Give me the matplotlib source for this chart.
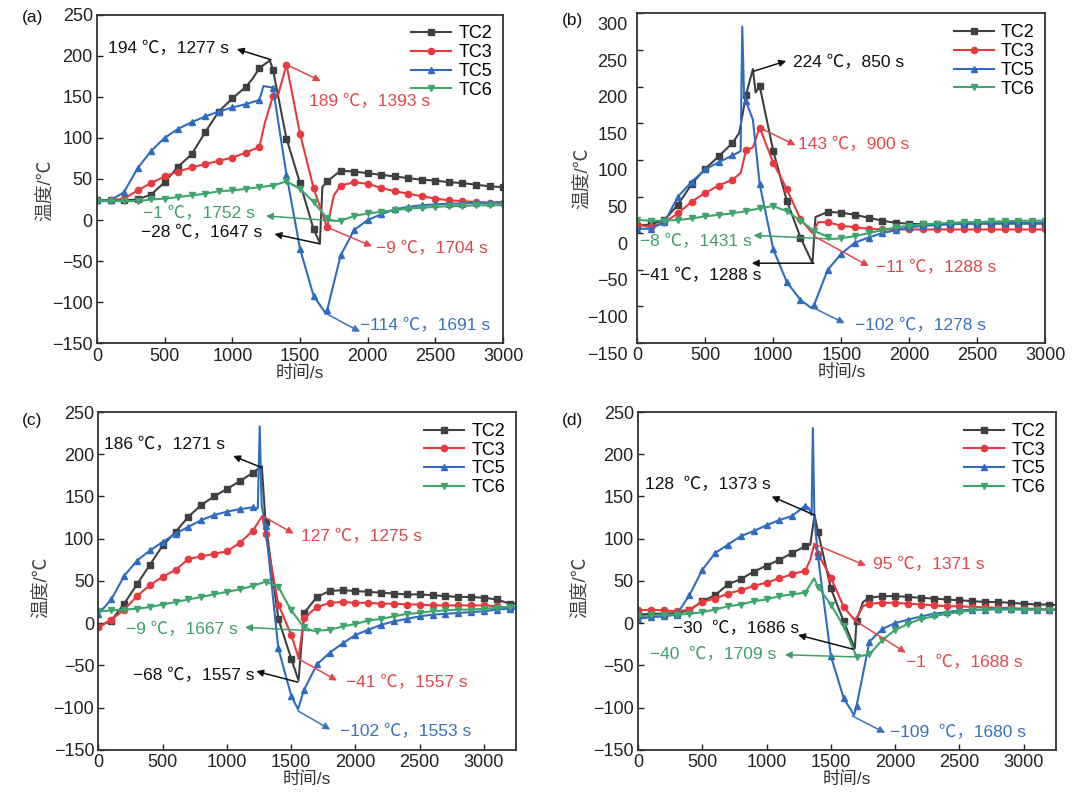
import matplotlib
matplotlib.use("Agg")
import matplotlib.pyplot as plt
import matplotlib.transforms as mtransforms

plt.rcParams['font.family'] = ['Liberation Sans', 'Noto Sans CJK SC']
plt.rcParams['axes.unicode_minus'] = True

# ---------------- 数据 (a) ----------------
a_t2 = [0, 100, 200, 300, 400, 500, 600, 700, 800, 900, 1000, 1100, 1150, 1200, 1277, 1300, 1400, 1500, 1600, 1647, 1665,
        1700, 1800, 1900, 2000, 2100, 2200, 2300, 2400, 2500, 2600, 2700, 2800, 2900, 3000]
a_v2 = [24, 24, 24, 25, 31, 46, 65, 80, 107, 132, 148, 162, 172, 185, 194, 183, 99, 45, -11, -28, 40,
        47, 60, 59, 57, 55, 53, 51, 49, 48, 46, 45, 43, 41, 40]
a_t3 = [0, 100, 200, 300, 400, 500, 600, 700, 800, 900, 1000, 1100, 1200, 1240, 1300, 1340, 1400, 1500, 1600, 1700, 1750,
        1800, 1900, 2000, 2100, 2200, 2300, 2400, 2500, 2600, 2700, 2800, 2900, 3000]
a_v3 = [24, 24, 26, 36, 45, 53, 59, 64, 68, 72, 76, 82, 89, 118, 151, 153, 189, 105, 39, -9, 30,
        42, 46, 44, 39, 35, 32, 29, 26, 24, 23, 22, 21, 21]
a_t5 = [0, 100, 200, 300, 400, 500, 600, 700, 800, 900, 1000, 1100, 1200, 1230, 1300, 1400, 1500, 1600, 1691, 1700,
        1800, 1900, 2000, 2100, 2200, 2300, 2400, 2500, 2600, 2700, 2800, 2900, 3000]
a_v5 = [24, 24, 34, 63, 84, 100, 111, 119, 126, 132, 137, 141, 146, 163, 161, 55, -35, -92, -114, -110,
        -43, -12, 0, 7, 13, 16, 18, 19, 20, 20, 21, 21, 22]
a_t6 = [0, 100, 200, 300, 400, 500, 600, 700, 800, 900, 1000, 1100, 1200, 1300, 1400, 1500, 1600, 1700, 1752,
        1800, 1900, 2000, 2100, 2200, 2300, 2400, 2500, 2600, 2700, 2800, 2900, 3000]
a_v6 = [23, 23, 23, 23, 25, 26, 28, 30, 32, 35, 36, 38, 40, 42, 47, 38, 22, 2, -1,
        -1, 5, 8, 10, 12, 14, 15, 16, 17, 17, 18, 18, 18]

# ---------------- 数据 (b) ----------------
b_t2 = [0, 100, 200, 300, 400, 500, 600, 700, 750, 800, 850, 870, 900, 1000, 1100, 1200, 1288, 1310,
        1400, 1500, 1600, 1700, 1800, 1900, 2000, 2100, 2200, 2300, 2400, 2500, 2600, 2700, 2800, 2900, 3000]
b_v2 = [10, 12, 18, 39, 67, 88, 105, 123, 137, 189, 224, 192, 201, 112, 44, -6, -41, 22,
        29, 28, 25, 21, 17, 14, 13, 12, 12, 13, 13, 13, 13, 13, 13, 13, 13]
b_t3 = [0, 100, 200, 300, 400, 500, 600, 700, 760, 800, 850, 900, 1000, 1100, 1200, 1288, 1330,
        1400, 1500, 1600, 1700, 1800, 1900, 2000, 2100, 2200, 2300, 2400, 2500, 2600, 2700, 2800, 2900, 3000]
b_v3 = [12, 8, 15, 27, 43, 55, 65, 73, 82, 113, 117, 144, 96, 60, 19, 0, 15,
        15, 10, 8, 6, 5, 5, 5, 5, 5, 5, 5, 5, 5, 5, 5, 5, 5]
b_t5 = [0, 100, 200, 300, 400, 500, 600, 700, 760, 772, 785, 800, 850, 900, 1000, 1100, 1200, 1278, 1300,
        1400, 1500, 1600, 1700, 1800, 1900, 2000, 2100, 2200, 2300, 2400, 2500, 2600, 2700, 2800, 2900, 3000]
b_v5 = [6, 6, 15, 50, 70, 87, 97, 106, 112, 282, 190, 180, 155, 67, -22, -67, -91, -102, -98,
        -50, -28, -13, -6, 0, 4, 8, 10, 11, 12, 13, 13, 14, 14, 14, 14, 14]
b_t6 = [0, 100, 200, 300, 400, 500, 600, 700, 800, 900, 1000, 1100, 1200, 1300, 1400, 1431,
        1500, 1600, 1700, 1800, 1900, 2000, 2100, 2200, 2300, 2400, 2500, 2600, 2700, 2800, 2900, 3000]
b_v6 = [18, 17, 17, 18, 20, 23, 25, 27, 30, 34, 37, 30, 17, 3, -5, -8,
        -7, -4, 0, 4, 8, 10, 12, 13, 14, 15, 15, 16, 16, 17, 17, 17]

# ---------------- 数据 (c) ----------------
c_t2 = [0, 100, 200, 300, 400, 500, 600, 700, 800, 900, 1000, 1100, 1200, 1271, 1300, 1400, 1500, 1557, 1600,
        1700, 1800, 1900, 2000, 2100, 2200, 2300, 2400, 2500, 2600, 2700, 2800, 2900, 3000, 3100, 3200, 3250]
c_v2 = [-4, 3, 23, 46, 69, 92, 108, 126, 140, 150, 159, 168, 178, 186, 120, 5, -42, -68, 12,
        31, 38, 39, 38, 37, 36, 35, 34, 34, 33, 32, 31, 31, 30, 28, 23, 23]
c_t3 = [0, 100, 200, 300, 400, 500, 600, 700, 800, 900, 1000, 1100, 1200, 1275, 1300, 1400, 1500, 1557, 1600,
        1700, 1800, 1900, 2000, 2100, 2200, 2300, 2400, 2500, 2600, 2700, 2800, 2900, 3000, 3100, 3200, 3250]
c_v3 = [-5, 4, 16, 32, 45, 55, 63, 76, 79, 82, 85, 95, 109, 127, 106, 22, -14, -41, 6,
        19, 24, 25, 24, 24, 23, 23, 22, 22, 21, 21, 21, 21, 21, 20, 18, 18]
c_t5 = [0, 100, 200, 300, 400, 500, 600, 700, 800, 900, 1000, 1100, 1200, 1240, 1255, 1270, 1300, 1400, 1500, 1553,
        1600, 1700, 1800, 1900, 2000, 2100, 2200, 2300, 2400, 2500, 2600, 2700, 2800, 2900, 3000, 3100, 3200, 3250]
c_v5 = [11, 28, 56, 74, 86, 96, 106, 114, 122, 128, 132, 135, 137, 136, 233, 140, 115, -30, -86, -102,
        -79, -49, -35, -24, -14, -8, -2, 2, 5, 8, 10, 11, 12, 13, 14, 16, 17, 17]
c_t6 = [0, 100, 200, 300, 400, 500, 600, 700, 800, 900, 1000, 1100, 1200, 1300, 1400, 1500, 1600, 1667,
        1700, 1800, 1900, 2000, 2100, 2200, 2300, 2400, 2500, 2600, 2700, 2800, 2900, 3000, 3100, 3200, 3250]
c_v6 = [14, 15, 16, 17, 19, 22, 25, 28, 31, 34, 37, 40, 44, 49, 43, 15, -5, -9,
        -9, -8, -4, -1, 3, 5, 8, 11, 12, 14, 15, 16, 16, 17, 18, 19, 19]

# ---------------- 数据 (d) ----------------
d_t2 = [0, 100, 200, 300, 400, 500, 600, 700, 800, 900, 1000, 1100, 1200, 1300, 1340, 1373, 1400, 1500, 1600, 1686,
        1700, 1750, 1800, 1900, 2000, 2100, 2200, 2300, 2400, 2500, 2600, 2700, 2800, 2900, 3000, 3100, 3200, 3300]
d_v2 = [10, 11, 11, 12, 15, 26, 33, 46, 52, 61, 68, 75, 83, 91, 93, 128, 108, 41, 2, -30,
        3, 25, 30, 32, 32, 31, 30, 29, 28, 27, 26, 25, 25, 24, 23, 22, 22, 21]
d_t3 = [0, 100, 200, 300, 400, 500, 600, 700, 800, 900, 1000, 1100, 1200, 1300, 1340, 1371, 1400, 1500, 1600, 1688,
        1750, 1800, 1900, 2000, 2100, 2200, 2300, 2400, 2500, 2600, 2700, 2800, 2900, 3000, 3100, 3200, 3300]
d_v3 = [15, 16, 15, 14, 16, 25, 29, 35, 39, 44, 48, 53, 58, 62, 75, 94, 82, 54, 19, 3,
        20, 23, 24, 24, 23, 22, 21, 20, 20, 19, 19, 18, 18, 17, 17, 16, 16]
d_t5 = [0, 100, 200, 300, 400, 500, 600, 700, 800, 900, 1000, 1100, 1200, 1300, 1330, 1350, 1360, 1372, 1400,
        1500, 1600, 1680, 1700, 1750, 1800, 1900, 2000, 2100, 2200, 2300, 2400, 2500, 2600, 2700, 2800, 2900, 3000,
        3100, 3200, 3300]
d_v5 = [5, 7, 8, 10, 33, 63, 83, 93, 103, 109, 116, 122, 127, 139, 136, 128, 231, 125, 79,
        -39, -89, -109, -98, -60, -22, -7, 0, 4, 8, 11, 13, 15, 16, 16, 17, 17, 16,
        16, 16, 16]
d_t6 = [0, 100, 200, 300, 400, 500, 600, 700, 800, 900, 1000, 1100, 1200, 1300, 1370, 1400, 1500, 1600, 1700,
        1800, 1900, 2000, 2100, 2200, 2300, 2400, 2500, 2600, 2700, 2800, 2900, 3000, 3100, 3200, 3300]
d_v6 = [8, 9, 10, 10, 11, 13, 16, 20, 22, 26, 28, 32, 34, 36, 53, 43, 22, -4, -40,
        -37, -20, -8, -1, 5, 8, 11, 13, 15, 16, 16, 16, 16, 16, 16, 16]

# 标注: (文字, 文字位置x, y, 箭头起点x, y, 箭头终点x, y, 颜色)
a_notes = [
    ('194 ℃，1277 s', 84, 208, 1286, 195, 1033, 208, 'k'),
    ('189 ℃，1393 s', 1565, 144, 1390, 190, 1653, 169, 'r'),
    ('−1 ℃，1752 s', 337, 8, 1752, -1, 1248, 5, 'g'),
    ('−28 ℃，1647 s', 324, -15, 1648, -29, 1311, -17, 'k'),
    ('−9 ℃，1704 s', 2058, -35, 1704, -9, 2033, -32, 'r'),
    ('−114 ℃，1691 s', 1944, -128, 1685, -113, 1944, -136, 'b'),
]
b_notes = [
    ('224 ℃，850 s', 1146, 233, 855, 221, 1095, 235, 'k'),
    ('143 ℃，900 s', 1184, 121, 898, 144, 1164, 120, 'r'),
    ('−8 ℃，1431 s', 20, -11, 1431, -8, 855, -3, 'g'),
    ('−41 ℃，1288 s', 20, -58, 1298, -41, 842, -41, 'k'),
    ('−11 ℃，1288 s', 1753, -47, 1298, -4, 1703, -45, 'r'),
    ('−102 ℃，1278 s', 1601, -126, 1285, -101, 1525, -123, 'b'),
]
c_notes = [
    ('186 ℃，1271 s', 40, 212, 1273, 184, 1048, 198, 'k'),
    ('127 ℃，1275 s', 1578, 102, 1286, 126, 1520, 106, 'r'),
    ('−9 ℃，1667 s', 212, -8, 1645, -9, 1141, -5, 'g'),
    ('−68 ℃，1557 s', 265, -62, 1552, -70, 1228, -57, 'k'),
    ('−41 ℃，1557 s', 1923, -71, 1552, -42, 1857, -68, 'r'),
    ('−102 ℃，1553 s', 1883, -128, 1552, -104, 1804, -126, 'b'),
]
d_notes = [
    ('128  ℃，1373 s', 54, 164, 1371, 128, 1040, 150, 'k'),
    ('95 ℃，1371 s', 1828, 69, 1366, 94, 1774, 68, 'r'),
    ('−30  ℃，1686 s', 269, -7, 1675, -31, 1245, -14, 'k'),
    ('−40  ℃，1709 s', 94, -37.5, 1686, -40, 1142, -37.5, 'g'),
    ('−1  ℃，1688 s', 2083, -47, 1686, 3, 2083, -35, 'r'),
    ('−109  ℃，1680 s', 1962, -130, 1667, -110, 1922, -130, 'b'),
]

line_colors = {'TC2': '#404040', 'TC3': '#e63a3f', 'TC5': '#2f6cc0', 'TC6': '#3ea56c'}
markers = {'TC2': 's', 'TC3': 'o', 'TC5': '^', 'TC6': 'v'}
note_colors = {'k': '#111111', 'r': '#e0484d', 'b': '#3a72bd', 'g': '#3f9e6c'}

fig = plt.figure(figsize=(10.8, 8.06), dpi=100)

# (标签, 位置, x范围, y范围, y刻度, 数据, 标注, 标签位置, y刻度标签下移, y刻度间距, y标签位置)
panels = [
    ('(a)', [0.0898, 0.574, 0.376, 0.408], (0, 3000), (-150, 250), [-150, -100, -50, 0, 50, 100, 150, 200, 250],
     [(a_t2, a_v2), (a_t3, a_v3), (a_t5, a_v5), (a_t6, a_v6)], a_notes, (0.020, 0.978), 0, 3, (-0.103, 0.465)),
    ('(b)', [0.590, 0.5744, 0.378, 0.409], (0, 3000), (-150, 300), [-150, -100, -50, 0, 50, 100, 150, 200, 250, 300],
     [(b_t2, b_v2), (b_t3, b_v3), (b_t5, b_v5), (b_t6, b_v6)], b_notes, (0.520, 0.974), -10, 7, (-0.11, 0.5)),
    ('(c)', [0.0912, 0.0698, 0.3866, 0.419], (0, 3250), (-150, 250), [-150, -100, -50, 0, 50, 100, 150, 200, 250],
     [(c_t2, c_v2), (c_t3, c_v3), (c_t5, c_v5), (c_t6, c_v6)], c_notes, (0.020, 0.478), 0, 3, (-0.115, 0.48)),
    ('(d)', [0.5907, 0.0698, 0.387, 0.419], (0, 3250), (-150, 250), [-150, -100, -50, 0, 50, 100, 150, 200, 250],
     [(d_t2, d_v2), (d_t3, d_v3), (d_t5, d_v5), (d_t6, d_v6)], d_notes, (0.520, 0.478), 0, 3, (-0.115, 0.48)),
]

names = ['TC2', 'TC3', 'TC5', 'TC6']

for tag, rect, xl, yl, yt, series, notes, tagpos, yoff, ypad, ylab in panels:
    ax = fig.add_axes(rect)
    for name, (ts, vs) in zip(names, series):
        every = [i for i, t in enumerate(ts) if t % 100 == 0]
        ax.plot(ts, vs, color=line_colors[name], marker=markers[name], markersize=4.5,
                markevery=every, linewidth=1.5, label=name)
    for txt, tx, ty, x0, y0, x1, y1, c in notes:
        col = note_colors[c]
        ax.annotate('', xy=(x1, y1), xytext=(x0, y0),
                    arrowprops=dict(arrowstyle='-|>', color=col, lw=1.1,
                                    mutation_scale=10, shrinkA=0, shrinkB=0))
        ax.text(tx, ty, txt, color=col, fontsize=12.5, va='center', ha='left')
    ax.set_xlim(*xl)
    ax.set_ylim(*yl)
    ax.set_xticks([0, 500, 1000, 1500, 2000, 2500, 3000])
    ax.set_yticks(yt)
    ax.tick_params(direction='in', length=4, width=1, labelsize=13, colors='#222222', pad=3,
                   top=False, right=False)
    ax.tick_params(axis='y', pad=ypad)
    for sp in ax.spines.values():
        sp.set_linewidth(1.3)
        sp.set_color('#333333')
    if yoff:
        shift = mtransforms.ScaledTranslation(0, yoff / 100, fig.dpi_scale_trans)
        for lab in ax.get_yticklabels():
            lab.set_transform(lab.get_transform() + shift)
    ax.set_xlabel('时间/s', fontsize=12.5, color='#333333', labelpad=0)
    ax.set_ylabel('温度/℃', fontsize=13.5, color='#444444')
    ax.yaxis.set_label_coords(*ylab)
    ax.legend(loc='upper right', frameon=False, fontsize=13, handlelength=2.2,
              labelspacing=0.1, handletextpad=0.4, borderaxespad=0.2)
    fig.text(tagpos[0], tagpos[1], tag, fontsize=12.5, ha='left', va='center', color='#111111')

fig.savefig('out.png', dpi=100)
